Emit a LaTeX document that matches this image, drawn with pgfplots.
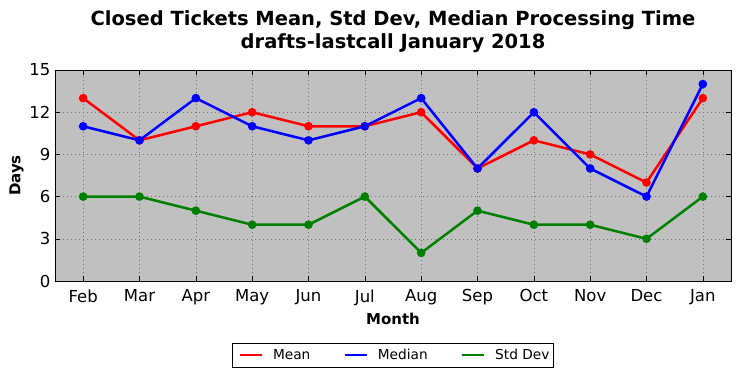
\documentclass[border=0pt]{standalone}
\usepackage{fontspec}
\setmainfont{DejaVu Sans}
\usepackage{pgfplots}
\pgfplotsset{compat=1.18}
\definecolor{bgsilver}{RGB}{192,192,192}
\definecolor{mgreen}{RGB}{0,128,0}
\begin{document}
\begin{tikzpicture}[x=1pt,y=1pt]
\path[use as bounding box] (0,0) rectangle (741,378);
\begin{axis}[
  at={(55pt,97pt)}, anchor=south west,
  scale only axis, width=676pt, height=211pt,
  axis background/.style={fill=bgsilver},
  axis line style={black, line width=0.9pt},
  xmin=-0.5, xmax=11.5, ymin=0, ymax=15,
  xtick={0,...,11},
  xticklabels={Feb,Mar,Apr,May,Jun,Jul,Aug,Sep,Oct,Nov,Dec,Jan},
  ytick={0,3,6,9,12,15},
  tick align=inside, major tick length=5pt,
  tick style={black, line width=0.6pt},
  grid=major, grid style={black!55, dash pattern=on 1pt off 3pt, line width=0.6pt},
  /pgf/number format/assume math mode=true,
  tick label style={font=\fontsize{16.5}{19}\selectfont},
  xticklabel style={yshift=-5pt},
  yticklabel style={xshift=-1pt},
  title={Closed Tickets Mean, Std Dev, Median Processing Time\\drafts-lastcall January 2018},
  title style={font=\fontsize{19.5}{22.5}\selectfont\bfseries, align=center, yshift=8pt},
  xlabel={Month}, ylabel={Days},
  xlabel style={font=\fontsize{15}{17}\selectfont\bfseries, yshift=-1pt},
  ylabel style={font=\fontsize{15}{17}\selectfont\bfseries, yshift=-1pt},
  legend columns=3,
  legend style={at={(0.5,-0.351)}, anchor=center, draw=black, line width=0.8pt,
    font=\fontsize{13.7}{16}\selectfont, inner xsep=2pt, inner ysep=4pt,
    /tikz/every even column/.append style={column sep=27pt}},
  legend image code/.code={\draw[#1, line width=2.5pt] (0pt,0pt) -- (22pt,0pt);
     \path (-4pt,0pt) (30pt,0pt);},
  every axis plot/.append style={line width=2.5pt, mark=*, mark size=3pt,
     mark options={draw=black, line width=0.5pt}},
]
\addplot[color=red, mark options={fill=red}] coordinates {
(0,13) (1,10) (2,11) (3,12) (4,11) (5,11) (6,12) (7,8) (8,10) (9,9) (10,7) (11,13)};
\addlegendentry{Mean}
\addplot[color=blue, mark options={fill=blue}] coordinates {
(0,11) (1,10) (2,13) (3,11) (4,10) (5,11) (6,13) (7,8) (8,12) (9,8) (10,6) (11,14)};
\addlegendentry{Median}
\addplot[color=mgreen, mark options={fill=mgreen}] coordinates {
(0,6) (1,6) (2,5) (3,4) (4,4) (5,6) (6,2) (7,5) (8,4) (9,4) (10,3) (11,6)};
\addlegendentry{Std Dev}
\end{axis}
\end{tikzpicture}
\end{document}
